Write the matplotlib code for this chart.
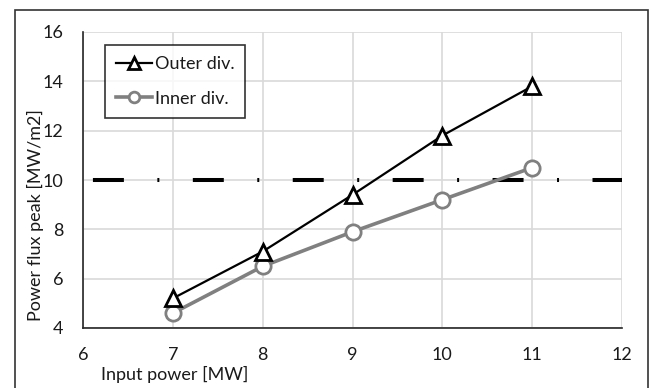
import matplotlib
matplotlib.use("Agg")
import matplotlib.pyplot as plt
from matplotlib.patches import Rectangle

input_power = [7, 8, 9, 10, 11]
outer_div = [5.2, 7.1, 9.4, 11.8, 13.8]
inner_div = [4.6, 6.5, 7.9, 9.2, 10.5]
limit_level = 10
x_ticks = [6, 7, 8, 9, 10, 11, 12]
y_ticks = [4, 6, 8, 10, 12, 14, 16]

plt.rcParams['font.family'] = ['Lato', 'DejaVu Sans']
plt.rcParams['lines.scale_dashes'] = False
W, H = 655, 388
fig = plt.figure(figsize=(W / 100, H / 100), dpi=100)
fig.patch.set_facecolor('white')

# outer border
fig.patches.append(Rectangle((14.5 / W, -0.05), (648 - 14.5) / W, 1.05 - 10.5 / H,
                             transform=fig.transFigure, fill=False,
                             edgecolor='#333333', linewidth=1.2))

x0, x1 = 83, 622
y0, y1 = 32, 328
ax = fig.add_axes([x0 / W, 1 - y1 / H, (x1 - x0) / W, (y1 - y0) / H])

ax.set_xlim(6, 12)
ax.set_ylim(4, 16)
ax.set_xticks(x_ticks)
ax.set_yticks(y_ticks)
ax.grid(True, color='#d9d9d9', linewidth=1.2)
ax.set_axisbelow(True)
for s in ['top', 'right']:
    ax.spines[s].set_visible(False)
for s in ['left', 'bottom']:
    ax.spines[s].set_color('#262626')
    ax.spines[s].set_linewidth(1.2)
ax.tick_params(length=0, labelsize=13, colors='#1a1a1a')
ax.tick_params(axis='x', pad=14)
ax.tick_params(axis='y', pad=14)

ax.plot([6, 12], [limit_level, limit_level], color='black', linewidth=2.9,
        linestyle=(64.8, (22.3, 24.1, 1.44, 24.1)), dash_capstyle='butt',
        zorder=2)

ax.plot(input_power, outer_div, color='black', linewidth=1.6, marker='^',
        markersize=12, markerfacecolor='white', markeredgecolor='black',
        markeredgewidth=2, label='Outer div.', zorder=4)
ax.plot(input_power, inner_div, color='#808080', linewidth=2.6, marker='o',
        markersize=11, markerfacecolor='white', markeredgecolor='#808080',
        markeredgewidth=2, label='Inner div.', zorder=3)

leg = ax.legend(loc='upper left', bbox_to_anchor=((105 - x0) / (x1 - x0), 1 - (45 - y0) / (y1 - y0)),
                frameon=True, fancybox=False, edgecolor='black', fontsize=13,
                handlelength=2.0, handletextpad=0.15, borderpad=0.6,
                labelspacing=1.05, borderaxespad=0, markerscale=0.7)
leg.get_frame().set_linewidth(1.2)
for t in leg.get_texts():
    t.set_color('#1a1a1a')

fig.text(35 / W, 1 - 215 / H, 'Power flux peak [MW/m2]', rotation=90,
         ha='center', va='center', fontsize=13, color='#1a1a1a')
fig.text(175 / W, 1 - 374 / H, 'Input power [MW]', ha='center', va='center',
         fontsize=13, color='#1a1a1a')

fig.savefig('out.png', dpi=100)
